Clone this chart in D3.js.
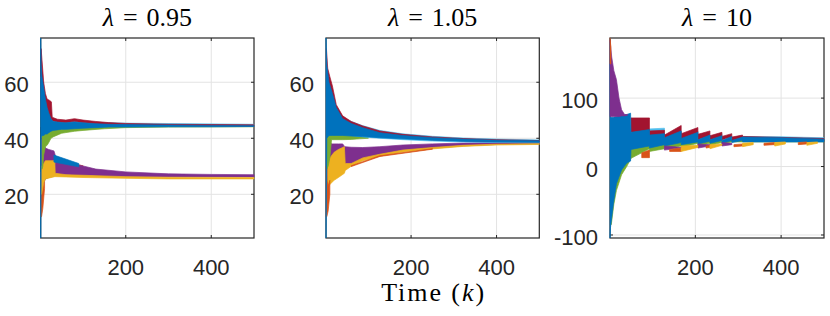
<!DOCTYPE html>
<html>
<head>
<meta charset="utf-8">
<script src="https://cdn.jsdelivr.net/npm/d3@7"></script>
<style>
    body { margin: 0; background: #fff; }
    .tick-label { font-family: 'Liberation Sans', Arial, sans-serif; font-size: 22px; fill: #262626; }
    .title, .xlabel { font-family: 'Liberation Serif', 'Times New Roman', serif; font-size: 26px; fill: #000; }
</style>
</head>
<body>
<svg id="chart" width="830" height="316"></svg>
<script>
// MATLAB default line colours
const colors = {
    blue: '#0072BD', orange: '#D95319', yellow: '#EDB120', purple: '#7E2F8E',
    green: '#77AC30', light: '#4DBEEE', red: '#A2142F'
};

const lambdas = ['0.95', '1.05', '10'];
const xTicks = [200, 400];
const yTicksLow = [20, 40, 60];
const yTicksHigh = [-100, 0, 100];

// each band: [k, lower envelope, upper envelope]; null breaks a band
const p1Orange = [[1,12,28],[3,12,25],[6,15,24],[10,22,27],[10,null,null],[55,30.8,31.5],[100,29.6,30.2]];
const p1Purple = [[3,22,40],[8,24,38.5],[12,25.5,36.5],[20,26,36],[32,26.5,35.5],[36,27,33.5],[60,27,32],[90,26.8,30.5],[130,26.5,29],[200,26.3,28],[300,26.2,27.3],[400,26.2,27.1],[500,26.2,27]];
const p1Yellow = [[3,20,30],[8,24,31],[12,25.5,32],[34,26.3,32],[35,26.3,27.5],[60,26.2,27],[100,26,26.8],[200,25.7,26.3],[300,25.5,26.1],[500,25.5,26]];
const p1BlueLow = [[32,31.5,34],[90,29.8,31]];
const p1Green = [[4,29,46],[6,30,45],[8,34,44],[12,37,43],[16,37.5,43],[20,38.5,43.5],[25,40,43.5],[30,40.5,43.8],[50,41.8,44],[80,42.5,44],[100,42.8,44.2],[150,43.4,44.3],[200,43.8,44.3],[300,44,44.3],[500,44.1,44.3]];
const p1Light = [[2,44,62],[6,44,58],[10,45,55],[16,45,52],[20,45,50],[25,45,47.5],[40,45,46.3],[100,45,45.9],[200,44.6,45.4],[500,44.3,45]];
const p1Red = [[2,50,72],[4,50,68],[8,48,60],[12,47,56],[16,47,54],[22,47,53.5],[26,47,53],[28,46.3,47.5],[40,45.8,46.8],[60,45.6,46.5],[80,46,47],[100,45.6,46.5],[130,45.2,46],[160,44.9,45.6],[200,44.7,45.3],[300,44.5,45],[400,44.4,44.9],[500,44.3,44.8]];
const p1Blue = [[1,4.4,75.8],[2,40,66],[4,41,62],[8,41,58],[12,41.5,54],[16,41.5,51],[20,42,49],[25,42.5,47],[30,42.8,46],[40,43,45.8],[50,43.2,45.6],[60,43.2,45.5],[80,43.4,45.8],[100,43.6,45.5],[130,43.8,45.2],[160,44,45],[200,44,44.9],[300,44.1,44.7],[400,44.1,44.6],[500,44.2,44.5]];

const p2Orange = [[1,12,30],[3,12,25],[6,14,23],[10,20,25],[10,null,null],[60,29.9,30.2],[127,33.5,33.8],[250,36.1,36.3]];
const p2Purple = [[3,22,40],[8,24,38.5],[15,26,38],[30,27,38],[40,28.5,38],[45,29,37],[60,30.5,36.8],[87,32.5,36.7],[127,34,37],[181,35.5,37.6],[250,36.5,38],[322,37.3,38.3],[400,37.8,38.5],[500,38,38.6]];
const p2Yellow = [[5,22,30],[10,23.5,33],[20,25,35],[30,26,36],[44,27.5,37],[46,28.5,31],[60,30,31],[87,32,33],[127,33.6,34.3],[181,35.1,35.8],[250,36.2,36.7],[322,37.1,37.5],[400,37.6,37.9],[500,37.8,38.1]];
const p2Green = [[3,29,46],[6,30,45],[10,33,43],[14,39.5,42.5],[20,39.5,42],[40,39.5,41.5],[60,39.6,41.5],[80,39.8,41],[100,40,41]];
const p2Light = [[2,44,62],[5,44,56],[10,43,54],[16,42,52],[25,42,50],[40,41.5,47.5],[60,41,46],[87,40.5,44.5],[127,40,42.8],[181,39.5,41.6],[250,39,40.7],[322,38.7,40.1],[400,38.5,39.7],[500,38.4,39.4]];
const p2Red = [[2,55,72],[5,52,65],[10,50,62],[16,48,58.7],[25,46,52],[40,44,48],[60,43,46],[87,42,44.4],[127,41,42.6],[181,40.2,41.4],[250,39.5,40.5],[322,39.1,39.9],[400,38.8,39.5],[500,38.7,39.2]];
const p2Blue = [[1,4.4,75.8],[3,40,66],[8,41,60],[16,41,56],[25,41,51],[40,41,47],[60,40.8,45.3],[87,40.6,43.8],[127,40.2,42],[181,39.8,41],[250,39.3,40.2],[322,38.9,39.7],[400,38.7,39.3],[500,38.6,39.1]];

const p3Green = [[4,-85,-60],[6,-75,-50],[10,-55,-30],[16,-35,-15],[28,-12,5],[40,0,15],[50,12,30],[93,26,34],[93,22,32],[128,26,33],[128,26,32],[167,30,36],[167,28,34],[206,34,38],[206,30,35],[234,34,39],[234,31,36],[262,35,39],[262,33,36],[285,36,39],[310,36,39],[500,36,39]];
const p3Light = [[20,5,40],[48,25,45],[50,28,46],[50,null,null],[93,44,55],[128,44,56],[128,null,null],[167,40,47],[206,44,52],[206,null,null],[240,40,45],[262,42,48],[262,null,null],[300,40,44],[400,39,43.5],[500,38,42]];
const p3Red = [[50,50,71],[93,52,71],[93,45,52],[128,47,53],[128,40,46],[167,50,60],[167,40,48],[206,48,57],[206,39,47],[234,45,52],[234,39,45],[262,44,50],[262,39,44],[285,43,48],[285,38,43],[310,42,46],[310,38,44],[500,37,41]];
const p3Blue = [[1,-104.4,187.8],[2,-90,72],[9,-54,72],[16,-25,73],[28,-5,75],[40,5,76],[49,8,78],[50,25,50],[93,30,54],[93,27,46],[128,32,48],[128,30,42],[167,35,52],[167,32,41],[206,36,50],[206,33,39],[234,37,46],[234,34,39],[262,38,45],[262,34,38],[285,38,44],[285,35,38],[310,38,43],[310,36,43],[400,36,42],[500,36,40]];
const p3Purple = [[1,73,185],[5,73,160],[10,73,140],[16,73,127],[22,73,100],[28,74,83],[35,74,76],[42,75,76],[42,null,null],[128,24,30],[150,26,29],[167,27,28],[167,null,null],[206,27,33],[234,30,32],[234,null,null],[262,30,35],[285,32,34]];
const p3Orange = [[1,150,188],[3,150,175],[3,null,null],[75,13,20],[93,13,24],[93,null,null],[140,22,25],[167,22,27],[167,null,null],[225,27,30],[234,28,31],[234,null,null],[290,29,32],[310,30,33],[310,null,null],[360,31,34],[385,32,35],[385,null,null],[440,32,35],[460,33,36]];
const p3Yellow = [[167,22,30],[206,28,31],[206,null,null],[234,26,32],[262,31,33],[262,null,null],[310,29,34],[335,32,35],[335,null,null],[385,30,35],[410,33,36],[410,null,null],[460,31,35],[485,34,36]];

const panels = [
    { left: 40.7, right: 254, yDomain: [4.4, 75.8], yTicks: yTicksLow,
      layers: [[p1Orange,'orange'],[p1Purple,'purple'],[p1Yellow,'yellow'],[p1BlueLow,'blue'],
               [p1Green,'green'],[p1Light,'light'],[p1Red,'red'],[p1Blue,'blue']] },
    { left: 326, right: 539.3, yDomain: [4.4, 75.8], yTicks: yTicksLow,
      layers: [[p2Purple,'purple'],[p2Yellow,'yellow'],[p2Orange,'orange'],
               [p2Green,'green'],[p2Light,'light'],[p2Red,'red'],[p2Blue,'blue']] },
    { left: 610, right: 824, yDomain: [-104.4, 187.8], yTicks: yTicksHigh,
      layers: [[p3Green,'green'],[p3Light,'light'],[p3Red,'red'],[p3Blue,'blue'],
               [p3Purple,'purple'],[p3Orange,'orange'],[p3Yellow,'yellow']] }
];

const plotTop = 38, plotBottom = 238;
const svg = d3.select('#chart');

function drawPanel(p, i) {
    let g = svg.append('g');
    let x = d3.scaleLinear().domain([1, 500]).range([p.left, p.right]);
    let y = d3.scaleLinear().domain(p.yDomain).range([plotBottom, plotTop]);

    // grid
    g.selectAll('.gx').data(xTicks).join('line')
        .attr('x1', d => x(d)).attr('x2', d => x(d))
        .attr('y1', plotTop).attr('y2', plotBottom)
        .attr('stroke', '#e3e3e3').attr('stroke-width', 1);
    g.selectAll('.gy').data(p.yTicks).join('line')
        .attr('x1', p.left).attr('x2', p.right)
        .attr('y1', d => y(d)).attr('y2', d => y(d))
        .attr('stroke', '#e3e3e3').attr('stroke-width', 1);

    // box
    g.append('rect')
        .attr('x', p.left).attr('y', plotTop)
        .attr('width', p.right - p.left).attr('height', plotBottom - plotTop)
        .attr('fill', 'none').attr('stroke', '#262626').attr('stroke-width', 1.2);

    // inward ticks
    xTicks.forEach(t => {
        g.append('line').attr('x1', x(t)).attr('x2', x(t)).attr('y1', plotBottom).attr('y2', plotBottom - 3)
            .attr('stroke', '#262626');
        g.append('line').attr('x1', x(t)).attr('x2', x(t)).attr('y1', plotTop).attr('y2', plotTop + 3)
            .attr('stroke', '#262626');
    });
    p.yTicks.forEach(t => {
        g.append('line').attr('x1', p.left).attr('x2', p.left + 3).attr('y1', y(t)).attr('y2', y(t))
            .attr('stroke', '#262626');
        g.append('line').attr('x1', p.right).attr('x2', p.right - 3).attr('y1', y(t)).attr('y2', y(t))
            .attr('stroke', '#262626');
    });

    // data bands
    let area = d3.area()
        .defined(d => d[1] != null)
        .x(d => x(d[0]))
        .y0(d => y(d[1]))
        .y1(d => y(d[2]));

    p.layers.forEach(([band, c]) => {
        g.append('path')
            .attr('d', area(band))
            .attr('fill', colors[c])
            .attr('stroke', colors[c])
            .attr('stroke-width', 0.7)
            .attr('stroke-linejoin', 'round');
    });

    // tick labels
    g.selectAll('.xl').data(xTicks).join('text')
        .attr('class', 'tick-label')
        .attr('x', d => x(d)).attr('y', 275)
        .attr('text-anchor', 'middle')
        .text(d => d);
    g.selectAll('.yl').data(p.yTicks).join('text')
        .attr('class', 'tick-label')
        .attr('x', p.left - 12).attr('y', d => y(d) + 10)
        .attr('text-anchor', 'end')
        .text(d => d);

    // title
    let t = g.append('text')
        .attr('class', 'title')
        .attr('x', (p.left + p.right) / 2).attr('y', 26)
        .attr('text-anchor', 'middle');
    t.append('tspan').style('font-style', 'italic').text('λ');
    t.append('tspan').attr('dx', 9).text('=');
    t.append('tspan').attr('dx', 9).text(lambdas[i]);
}

panels.forEach(drawPanel);

let xl = svg.append('text')
    .attr('class', 'xlabel')
    .attr('x', (panels[1].left + panels[1].right) / 2).attr('y', 301)
    .attr('text-anchor', 'middle')
    .attr('textLength', 103)
    .attr('lengthAdjust', 'spacing');
xl.append('tspan').text('Time (');
xl.append('tspan').style('font-style', 'italic').text('k');
xl.append('tspan').text(')');
</script>
</body>
</html>
